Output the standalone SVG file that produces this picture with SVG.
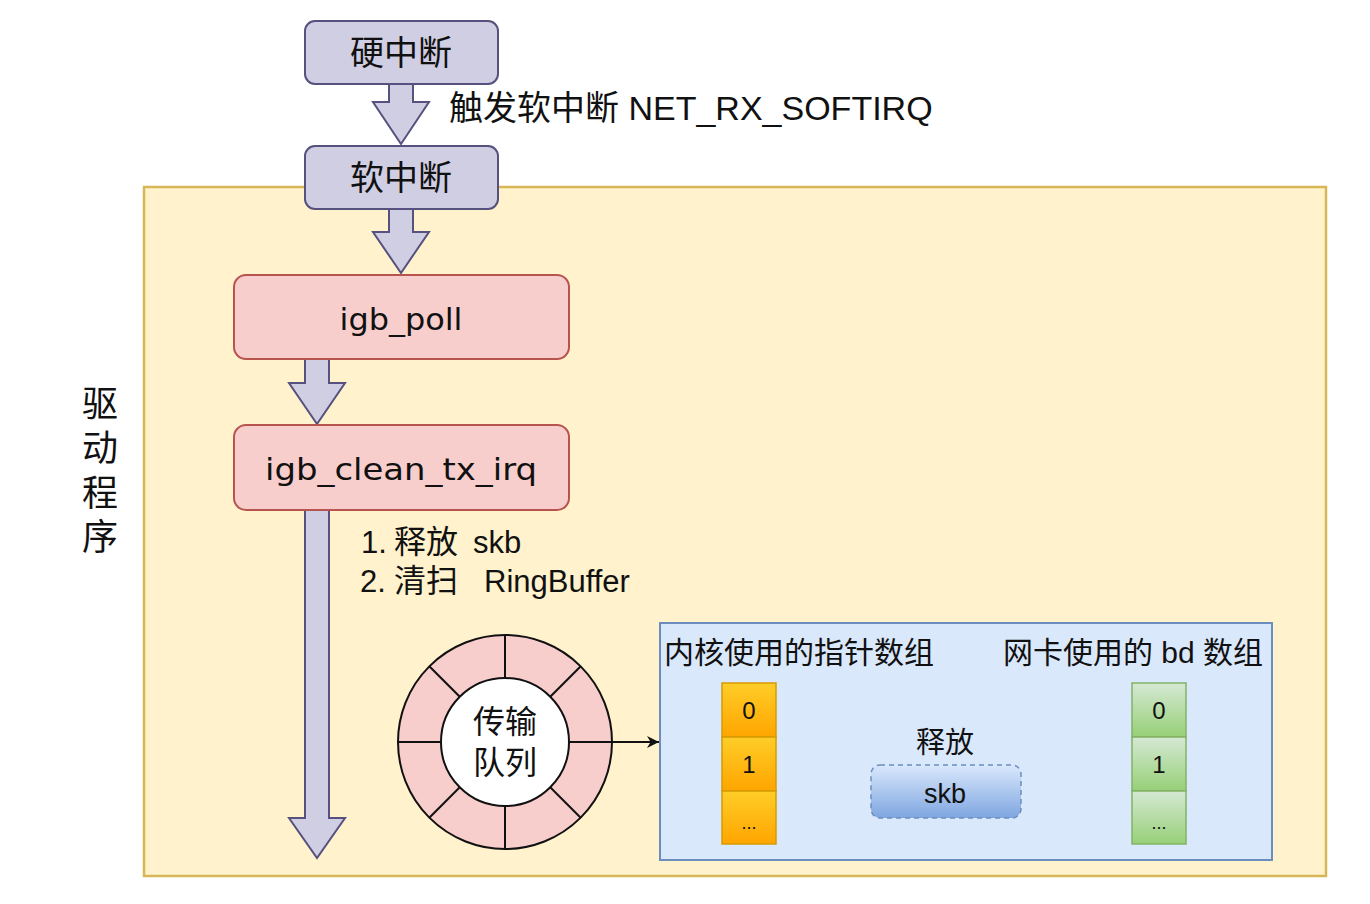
<svg xmlns="http://www.w3.org/2000/svg" width="1370" height="904" viewBox="0 0 1370 904">
<defs>
<style>
.cjk{font-family:"Noto Sans CJK SC","Liberation Sans",sans-serif;fill:#111;}
.lat{font-family:"Liberation Sans","Noto Sans CJK SC",sans-serif;fill:#111;}
.fn{font-family:"DejaVu Sans","Noto Sans",sans-serif;fill:#111;}
.purple{fill:#d0cee2;stroke:#56517e;stroke-width:2;}
.red{fill:#f8cecc;stroke:#b85450;stroke-width:2;}
.blk{stroke:#111;stroke-width:2;fill:none;}
</style>
<linearGradient id="gOrange" x1="0" y1="0" x2="0" y2="1"><stop offset="0" stop-color="#ffcd28"/><stop offset="1" stop-color="#ffa500"/></linearGradient>
<linearGradient id="gGreen" x1="0" y1="0" x2="0" y2="1"><stop offset="0" stop-color="#d5e8d4"/><stop offset="1" stop-color="#97d077"/></linearGradient>
<linearGradient id="gBlue" x1="0" y1="0" x2="0" y2="1"><stop offset="0" stop-color="#dae8fc"/><stop offset="1" stop-color="#7ea6e0"/></linearGradient>
<marker id="arr" viewBox="0 0 10 10" refX="10" refY="5" markerWidth="12" markerHeight="12" markerUnits="userSpaceOnUse" orient="auto"><path d="M0,0 L10,5 L0,10 L3,5 Z" fill="#111"/></marker>
</defs>
<rect width="1370" height="904" fill="#ffffff"/>

<g id="driver">
<rect x="144" y="187" width="1182" height="689" fill="#fff2cc" stroke="#d6b656" stroke-width="2.5"/>
</g>
<g id="driver-label">
<text class="cjk" font-size="36" x="100" y="385" style="writing-mode:vertical-rl;letter-spacing:8.5px">驱动程序</text>
</g>

<g id="connectors">
<path class="purple" d="M389,84 L413,84 L413,102 L429,102 L401,144 L373,102 L389,102 Z"/>
<path class="purple" d="M389,209 L413,209 L413,232 L429,232 L401,273 L373,232 L389,232 Z"/>
<path class="purple" d="M305,359 L329,359 L329,383 L345,383 L317,424 L289,383 L305,383 Z"/>
<path class="purple" d="M305,510 L329,510 L329,818 L345,818 L317,858 L289,818 L305,818 Z"/>
<line x1="612" y1="742" x2="659" y2="742" stroke="#111" stroke-width="2" marker-end="url(#arr)"/>
</g>

<g id="hardirq">
<rect class="purple" x="305" y="21" width="193" height="63" rx="10"/>
<text class="cjk" font-size="34" text-anchor="middle" x="401" y="65">硬中断</text>
</g>
<g id="trigger-label">
<text class="lat" font-size="34" x="449" y="120">触发软中断 NET_RX_SOFTIRQ</text>
</g>
<g id="softirq">
<rect class="purple" x="305" y="146" width="193" height="63" rx="10"/>
<text class="cjk" font-size="34" text-anchor="middle" x="401" y="190">软中断</text>
</g>
<g id="igb_poll">
<rect class="red" x="234" y="275" width="335" height="84" rx="12"/>
<text class="fn" font-size="30" text-anchor="middle" x="401" y="330" textLength="123" lengthAdjust="spacingAndGlyphs">igb_poll</text>
</g>
<g id="igb_clean_tx_irq">
<rect class="red" x="234" y="425" width="335" height="85" rx="12"/>
<text class="fn" font-size="30" text-anchor="middle" x="401" y="480" textLength="272" lengthAdjust="spacingAndGlyphs">igb_clean_tx_irq</text>
</g>
<g id="steps">
<text class="lat" font-size="31" y="553"><tspan x="361">1. </tspan><tspan x="394" font-size="32">释放 </tspan><tspan x="473">skb</tspan></text>
<text class="lat" font-size="31" y="592"><tspan x="360">2. </tspan><tspan x="394" font-size="32">清扫 </tspan><tspan x="484">RingBuffer</tspan></text>
</g>

<g id="ring">
<circle cx="505" cy="742" r="107" fill="#f8cecc" stroke="#111" stroke-width="2"/>
<line class="blk" x1="398" y1="742" x2="612" y2="742"/>
<line class="blk" x1="505" y1="635" x2="505" y2="849"/>
<line class="blk" x1="429.3" y1="666.3" x2="580.7" y2="817.7"/>
<line class="blk" x1="580.7" y1="666.3" x2="429.3" y2="817.7"/>
<circle cx="505" cy="742" r="64" fill="#ffffff" stroke="#111" stroke-width="2"/>
<text class="lat" font-size="32" text-anchor="middle"><tspan x="505" y="733">传输</tspan><tspan x="505" y="774">队列</tspan></text>
</g>

<g id="memory">
<rect x="660" y="623" width="612" height="237" fill="#dae8fc" stroke="#6c8ebf" stroke-width="2"/>
<text class="lat" font-size="30" x="664" y="663">内核使用的指针数组</text>
<text class="lat" font-size="30" x="1003" y="663">网卡使用的 bd 数组</text>
</g>
<g id="kernel-array">
<rect x="722" y="683" width="54" height="54" fill="url(#gOrange)" stroke="#d79b00" stroke-width="1.5"/>
<rect x="722" y="737" width="54" height="54" fill="url(#gOrange)" stroke="#d79b00" stroke-width="1.5"/>
<rect x="722" y="791" width="54" height="53" fill="url(#gOrange)" stroke="#d79b00" stroke-width="1.5"/>
<text class="lat" font-size="24" text-anchor="middle" x="749" y="719">0</text>
<text class="lat" font-size="24" text-anchor="middle" x="749" y="773">1</text>
<text class="lat" font-size="18" text-anchor="middle" x="749" y="829">...</text>
</g>
<g id="nic-array">
<rect x="1132" y="683" width="54" height="54" fill="url(#gGreen)" stroke="#82b366" stroke-width="1.5"/>
<rect x="1132" y="737" width="54" height="54" fill="url(#gGreen)" stroke="#82b366" stroke-width="1.5"/>
<rect x="1132" y="791" width="54" height="53" fill="url(#gGreen)" stroke="#82b366" stroke-width="1.5"/>
<text class="lat" font-size="24" text-anchor="middle" x="1159" y="719">0</text>
<text class="lat" font-size="24" text-anchor="middle" x="1159" y="773">1</text>
<text class="lat" font-size="18" text-anchor="middle" x="1159" y="829">...</text>
</g>
<g id="release">
<text class="lat" font-size="29" text-anchor="middle" x="945" y="753">释放</text>
<rect x="871" y="765" width="150" height="53" rx="9" fill="url(#gBlue)" stroke="#6c8ebf" stroke-width="1.5" stroke-dasharray="5,4"/>
<text class="lat" font-size="27" text-anchor="middle" x="945" y="803" fill="#333">skb</text>
</g>
</svg>
